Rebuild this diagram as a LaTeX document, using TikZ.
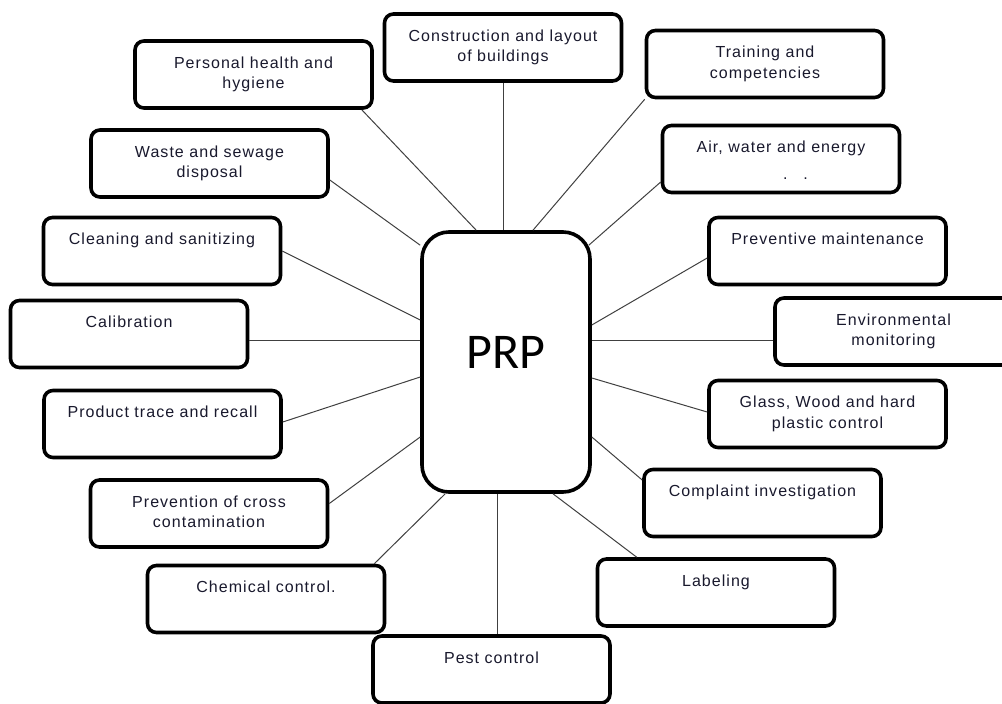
\documentclass[tikz,border=0pt]{standalone}
\usepackage{fontspec}
\usetikzlibrary{calc}
\newfontfamily\boxfont{Liberation Sans}[LetterSpace=6.5]
\newfontfamily\prpfont{Carlito}
\definecolor{txtcol}{RGB}{25,25,45}
\newcommand{\boxtext}[1]{\parbox[c][67pt][t]{230pt}{\centering\rule{0pt}{27pt}#1}}

\begin{document}
\begin{tikzpicture}[x=1pt, y=-1pt,
  item/.style={draw=black, line width=3.6pt, rounded corners=9pt, fill=white,
    inner sep=0pt, minimum width=237pt, minimum height=67pt, text=txtcol,
    font=\boxfont\fontsize{16}{20.5}\selectfont},
  link/.style={draw=black!75, line width=1pt}]
\useasboundingbox (0,0) rectangle (1002,704);
% centre box
\node[draw=black, line width=3.6pt, rounded corners=27pt, fill=white,
  minimum width=168pt, minimum height=260pt, text depth=20pt,
  font=\prpfont\fontsize{50}{60}\selectfont] (prp) at (506,362) {PRP};
% left side, top to bottom
\node[item] (health) at (253.5,74.5) {\boxtext{Personal health and\\hygiene}};
\node[item] (waste) at (209.5,163.5) {\boxtext{Waste and sewage\\disposal}};
\node[item] (clean) at (162,251) {\boxtext{Cleaning and sanitizing}};
\node[item] (calib) at (129,334) {\boxtext{Calibration}};
\node[item] (trace) at (162.5,424) {\boxtext{Product trace and recall}};
\node[item] (cross) at (209,513.5) {\boxtext{Prevention of cross\\contamination}};
\node[item] (chem) at (266,599) {\boxtext{Chemical control.}};
% top and bottom
\node[item] (build) at (503,47.5) {\boxtext{Construction and layout\\of buildings}};
\node[item] (pest) at (491.5,669.5) {\boxtext{Pest control}};
% right side, top to bottom
\node[item] (train) at (765,64) {\boxtext{Training and\\competencies}};
\node[item] (air) at (781,159) {\boxtext{Air, water and energy\\\makebox[0pt][l]{\raisebox{-6pt}{\hspace*{2pt}.\hspace{16pt}.}}}};
\node[item] (maint) at (827.5,251) {\boxtext{Preventive maintenance}};
\node[item] (envmon) at (893.5,331.5) {\boxtext{Environmental\\monitoring}};
\node[item] (glass) at (827.5,414) {\boxtext{Glass, Wood and hard\\plastic control}};
\node[item] (compl) at (762.5,503) {\boxtext{Complaint investigation}};
\node[item] (label) at (716,592.5) {\boxtext{Labeling}};
% spokes
\draw[link] ($(health.south east)+(-12,0)$) -- ($(prp.north west)+(56,0)$);
\draw[link] (build.south) -- ($(prp.north)+(-3,0)$);
\draw[link] (train.south west) -- ($(prp.north)+(27,0)$);
\draw[link] ($(waste.east)+(0,16.5)$) -- ($(prp.north west)+(0,15)$);
\draw[link] ($(air.west)+(0,23)$) -- ($(prp.north east)+(-3,15)$);
\draw[link] (clean.east) -- ($(prp.west)+(0,-42)$);
\draw[link] ($(maint.west)+(0,7)$) -- ($(prp.east)+(0,-37)$);
\draw[link] ($(calib.east)+(0,6)$) -- ($(prp.west)+(0,-22)$);
\draw[link] ($(envmon.west)+(0,8.5)$) -- ($(prp.east)+(0,-22)$);
\draw[link] ($(trace.east)+(0,-2)$) -- ($(prp.west)+(0,15)$);
\draw[link] ($(glass.west)+(0,-2)$) -- ($(prp.east)+(0,16)$);
\draw[link] ($(cross.east)+(0,-10)$) -- ($(prp.west)+(0,75)$);
\draw[link] ($(compl.west)+(0,-23)$) -- ($(prp.east)+(0,75)$);
\draw[link] ($(chem.north east)+(-12,0)$) -- ($(prp.south west)+(25,0)$);
\draw[link] ($(pest.north)+(5.5,0)$) -- ($(prp.south)+(-9,0)$);
\draw[link] ($(label.north west)+(41,0)$) -- ($(prp.south)+(47,0)$);
\end{tikzpicture}
\end{document}
